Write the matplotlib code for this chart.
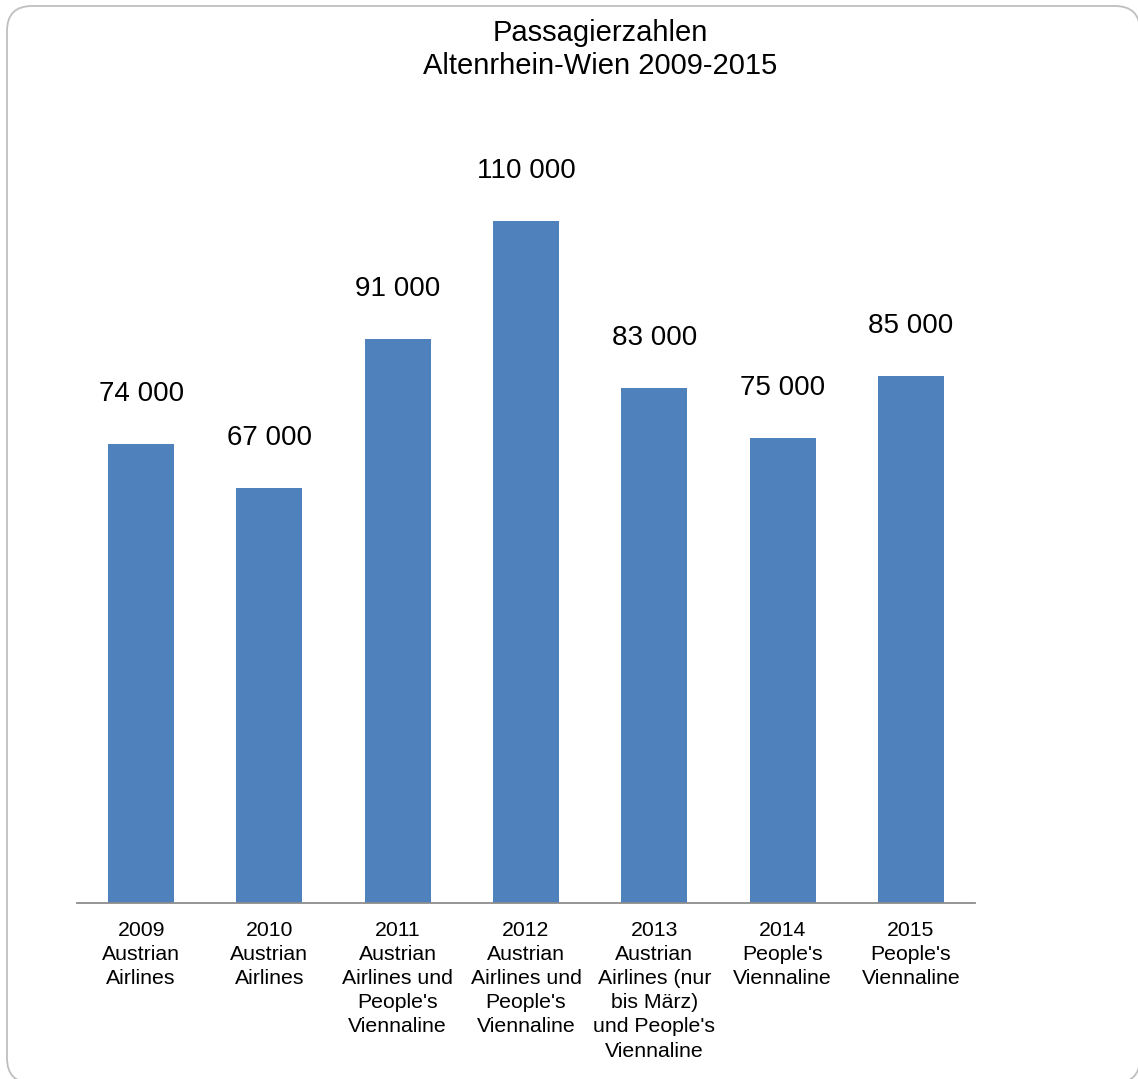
import matplotlib.pyplot as plt
from matplotlib.patches import FancyBboxPatch

plt.rcParams['font.family'] = ['Liberation Sans', 'DejaVu Sans']

# Daten
jahre = ['2009', '2010', '2011', '2012', '2013', '2014', '2015']
airlines = [
    'Austrian\nAirlines',
    'Austrian\nAirlines',
    'Austrian\nAirlines und\nPeople\'s\nViennaline',
    'Austrian\nAirlines und\nPeople\'s\nViennaline',
    'Austrian\nAirlines (nur\nbis März)\nund People\'s\nViennaline',
    'People\'s\nViennaline',
    'People\'s\nViennaline',
]
passagiere = [74000, 67000, 91000, 110000, 83000, 75000, 85000]

W, H = 1138, 1079
fig = plt.figure(figsize=(W / 100, H / 100), dpi=100)

# Rahmen mit runden Ecken
rahmen = FancyBboxPatch((7 / W, 1 - 1083 / H), 1133 / W, 1077 / H,
                        boxstyle='round,pad=0,rounding_size=0.022',
                        transform=fig.transFigure, facecolor='white',
                        edgecolor='#BFBFBF', linewidth=1.3, zorder=-5,
                        mutation_aspect=W / H)
fig.patches.append(rahmen)

ax = fig.add_axes([77 / W, 176 / H, 898 / W, 744 / H])
ax.set_zorder(1)
ax.patch.set_alpha(0)
x = range(len(jahre))
balken = ax.bar(x, passagiere, width=0.515, color='#4F81BD', zorder=2)

ax.set_xlim(-0.5, len(jahre) - 0.5)
ax.set_ylim(0, 120000)

for s in ['left', 'right', 'top']:
    ax.spines[s].set_visible(False)
ax.spines['bottom'].set_color('#8C8C8C')
ax.spines['bottom'].set_linewidth(1.3)
ax.set_yticks([])

labels = [j + '\n' + a for j, a in zip(jahre, airlines)]
ax.set_xticks(list(x))
ax.set_xticklabels(labels, fontsize=15.3, linespacing=1.34)
ax.tick_params(axis='x', length=0, pad=13)

for xi, v in zip(x, passagiere):
    text = f'{v:,}'.replace(',', ' ')
    ax.annotate(text, (xi, v), xytext=(0, 31), textcoords='offset points',
                ha='center', va='baseline', fontsize=20)

fig.text(600 / W, 1 - 41 / H, 'Passagierzahlen', ha='center', va='baseline', fontsize=21)
fig.text(600 / W, 1 - 74 / H, 'Altenrhein-Wien 2009-2015', ha='center', va='baseline', fontsize=21)

fig.savefig('out.png', dpi=100)
